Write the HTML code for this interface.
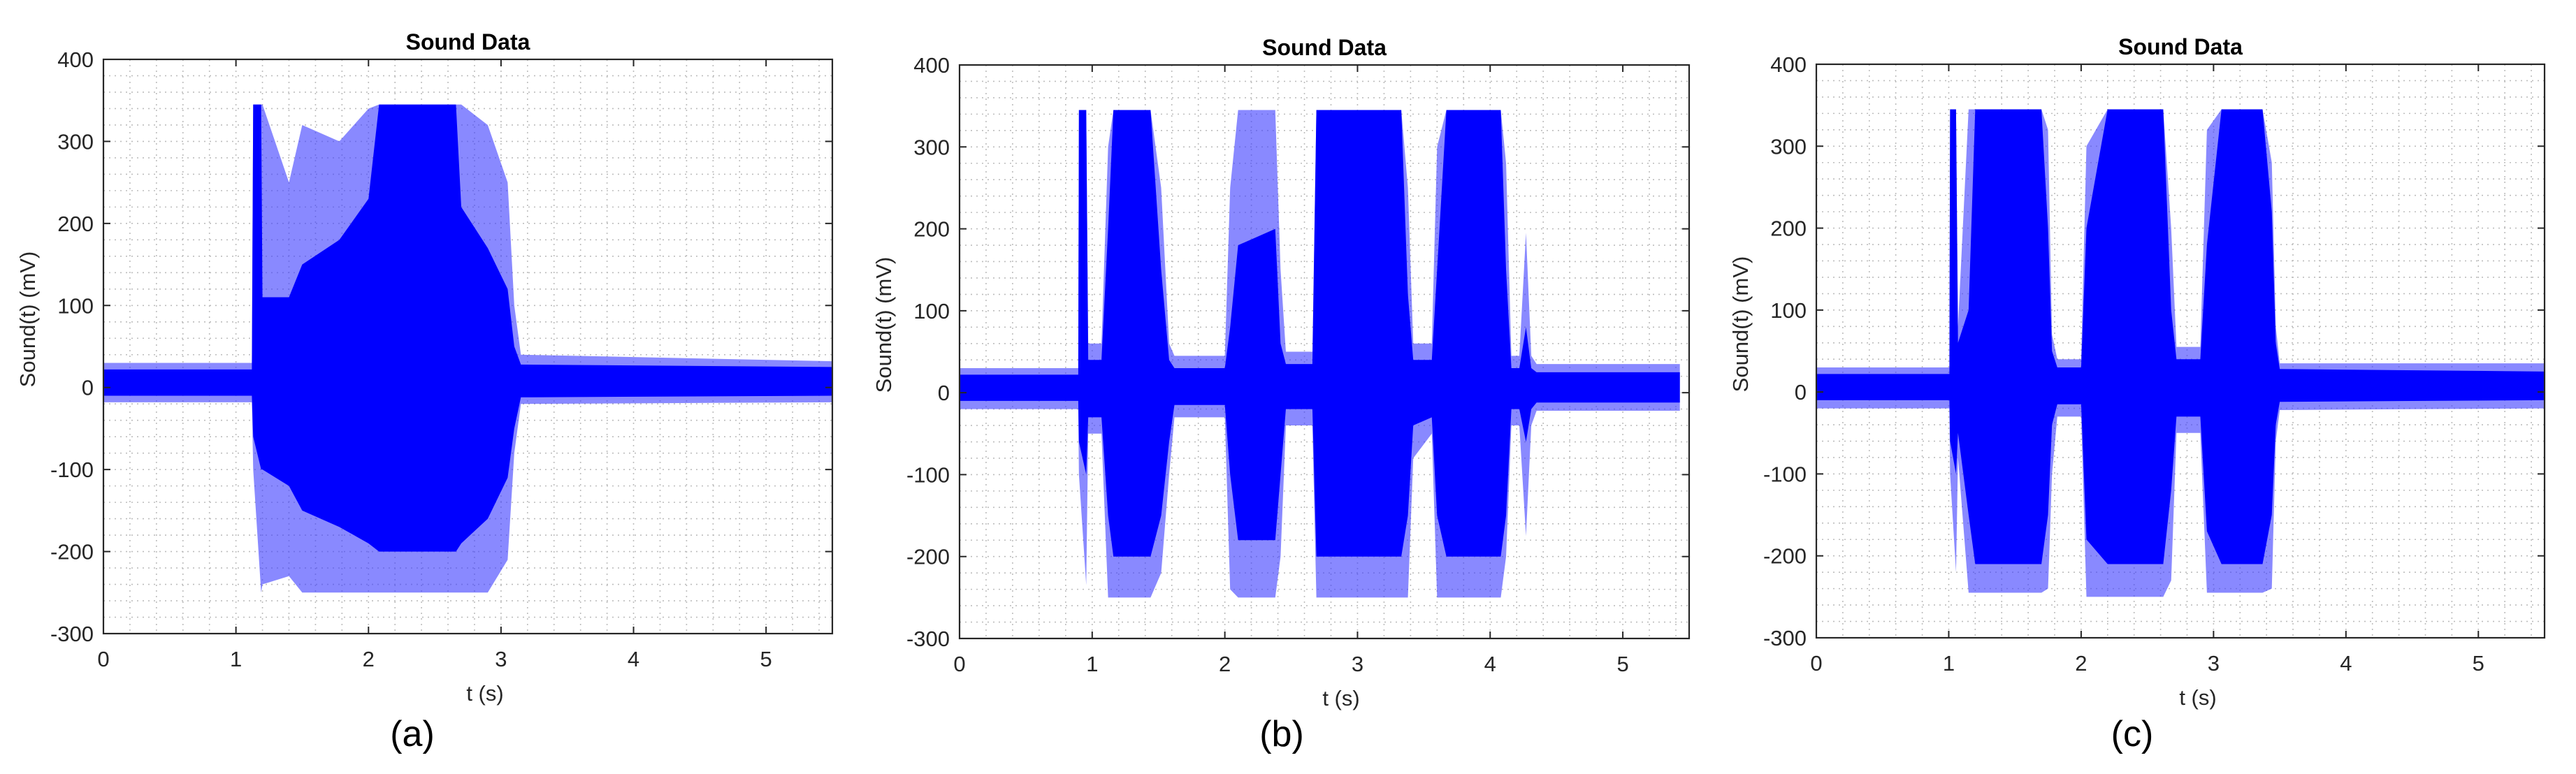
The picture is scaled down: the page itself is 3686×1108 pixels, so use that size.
<!DOCTYPE html>
<html><head><meta charset="utf-8"><style>
html,body{margin:0;padding:0;background:#fff;}
svg{display:block;font-family:"Liberation Sans",Arial,sans-serif;}
</style></head><body>
<svg id="fig" xmlns="http://www.w3.org/2000/svg" width="3686" height="1108" viewBox="0 0 3686 1108"></svg>
<script>
// ---- Panel (a) data ----
const tA     = [0, 1.12, 1.13, 1.19, 1.2, 1.4, 1.5, 1.78, 2.0, 2.08, 2.66, 2.7, 2.9, 3.05, 3.1, 3.15, 5.5];
const hiInA  = [22, 22, 345, 345, 110, 110, 150, 180, 230, 345, 345, 220, 170, 120, 50, 28, 25];
const loInA  = [-10, -10, -60, -100, -100, -120, -150, -170, -190, -200, -200, -190, -160, -110, -50, -12, -10];
const hiOutA = [30, 30, 345, 345, 345, 250, 320, 300, 340, 345, 345, 345, 320, 250, 100, 40, 32];
const loOutA = [-18, -18, -100, -250, -240, -230, -250, -250, -250, -250, -250, -250, -250, -210, -80, -20, -18];
// ---- Panel (b) data ----
const tB     = [0, 0.895, 0.9, 0.955, 0.97, 1.07, 1.12, 1.16, 1.44, 1.52, 1.58, 1.62, 2.0, 2.04, 2.1, 2.38, 2.42, 2.46, 2.66, 2.69, 3.33, 3.38, 3.42, 3.56, 3.6, 3.67, 4.08, 4.12, 4.16, 4.22, 4.27, 4.31, 4.35, 5.43];
const hiInB  = [22, 22, 345, 345, 40, 40, 200, 345, 345, 150, 40, 30, 30, 80, 180, 200, 60, 35, 35, 345, 345, 120, 40, 40, 150, 345, 345, 150, 30, 30, 80, 30, 25, 25];
const loInB  = [-10, -10, -60, -100, -30, -30, -150, -200, -200, -150, -60, -15, -15, -100, -180, -180, -100, -20, -20, -200, -200, -150, -40, -30, -150, -200, -200, -150, -20, -20, -60, -20, -12, -12];
const hiOutB = [30, 30, 345, 345, 60, 60, 300, 345, 345, 250, 60, 45, 45, 250, 345, 345, 150, 50, 50, 345, 345, 250, 60, 60, 300, 345, 345, 280, 45, 45, 195, 45, 35, 35];
const loOutB = [-20, -20, -100, -235, -50, -50, -250, -250, -250, -220, -100, -30, -30, -240, -250, -250, -200, -40, -40, -250, -250, -250, -80, -50, -250, -250, -250, -200, -40, -40, -175, -40, -22, -22];
// ---- Panel (c) data ----
const tC     = [0, 1.005, 1.01, 1.055, 1.07, 1.15, 1.2, 1.7, 1.75, 1.78, 1.82, 2.0, 2.04, 2.2, 2.62, 2.68, 2.72, 2.9, 2.95, 3.06, 3.37, 3.44, 3.47, 3.5, 5.5];
const hiInC  = [22, 22, 345, 345, 60, 100, 345, 345, 200, 50, 30, 30, 200, 345, 345, 100, 40, 40, 180, 345, 345, 220, 60, 28, 25];
const loInC  = [-10, -10, -60, -100, -50, -150, -210, -210, -150, -40, -15, -15, -180, -210, -210, -120, -30, -30, -170, -210, -210, -150, -40, -12, -10];
const hiOutC = [30, 30, 345, 345, 80, 345, 345, 345, 320, 70, 40, 40, 300, 345, 345, 200, 55, 55, 320, 345, 345, 280, 80, 35, 35];
const loOutC = [-20, -20, -100, -220, -80, -245, -245, -245, -240, -100, -30, -30, -250, -250, -250, -230, -50, -50, -245, -245, -245, -240, -60, -22, -20];
// ---- Axis ticks ----
const yTicks = [400, 300, 200, 100, 0, -100, -200, -300];
const xTicks = [0, 1, 2, 3, 4, 5];
const panelLabels = ["(a)", "(b)", "(c)"];

const NS = "http://www.w3.org/2000/svg";
const svg = document.getElementById("fig");
function mk(tag, attrs, parent){
  const e = document.createElementNS(NS, tag);
  for (const k in attrs) e.setAttribute(k, attrs[k]);
  (parent || svg).appendChild(e);
  return e;
}
const panels = [
  {L:148, R:1191, T:85, B:907, t:tA, hiIn:hiInA, loIn:loInA, hiOut:hiOutA, loOut:loOutA, lab:590, name:"a"},
  {L:1373, R:2417, T:93, B:914, t:tB, hiIn:hiInB, loIn:loInB, hiOut:hiOutB, loOut:loOutB, lab:1834, name:"b"},
  {L:2599, R:3641, T:92, B:913, t:tC, hiIn:hiInC, loIn:loInC, hiOut:hiOutC, loOut:loOutC, lab:3051, name:"c"}
];
panels.forEach((p, pi) => {
  const xs = t => p.L + (t / 5.5) * (p.R - p.L);
  const ys = v => p.B - ((v + 300) / 700) * (p.B - p.T);
  const g = mk("g", {});
  
  
  const grid = mk("g", {stroke:"#bdbdbd", "stroke-width":"1.6", "stroke-dasharray":"2,6"}, g);
  
  
  for (let i = 1; i < 28; i++) {
    const x = xs(i * 0.2);
    mk("line", {x1:x, x2:x, y1:p.T, y2:p.B}, grid);
  }
  for (let v = -280; v < 400; v += 20) {
    const y = ys(v);
    mk("line", {x1:p.L, x2:p.R, y1:y, y2:y}, grid);
  }
  const ptsOut = p.t.map((t,i)=>xs(t)+","+ys(p.hiOut[i])).concat(p.t.slice().reverse().map((t,j)=>{const i=p.t.length-1-j;return xs(t)+","+ys(p.loOut[i]);}));
  const outer = mk("polygon", {points:ptsOut.join(" "), fill:"#3a3aff", "fill-opacity":"0.6"}, g);
  
  
  const ptsIn = p.t.map((t,i)=>xs(t)+","+ys(p.hiIn[i])).concat(p.t.slice().reverse().map((t,j)=>{const i=p.t.length-1-j;return xs(t)+","+ys(p.loIn[i]);}));
  const inner = mk("polygon", {points:ptsIn.join(" "), fill:"#0000ff"}, g);
  
  
  const box = mk("rect", {x:p.L, y:p.T, width:p.R-p.L, height:p.B-p.T, fill:"none", stroke:"#262626", "stroke-width":"2.2"}, g);
  
  
  yTicks.forEach(v => {
    const y = ys(v);
    mk("line", {x1:p.L, x2:p.L+10, y1:y, y2:y, stroke:"#262626", "stroke-width":"2"}, g);
    mk("line", {x1:p.R, x2:p.R-10, y1:y, y2:y, stroke:"#262626", "stroke-width":"2"}, g);
    const tx = mk("text", {x:p.L-14, y:y+11, "text-anchor":"end", "font-size":"31", fill:"#262626"}, g);
    tx.textContent = v;
    
    
  });
  xTicks.forEach(v => {
    const x = xs(v);
    mk("line", {x1:x, x2:x, y1:p.B, y2:p.B-10, stroke:"#262626", "stroke-width":"2"}, g);
    mk("line", {x1:x, x2:x, y1:p.T, y2:p.T+10, stroke:"#262626", "stroke-width":"2"}, g);
    const tx = mk("text", {x:x, y:p.B+47, "text-anchor":"middle", "font-size":"31", fill:"#262626"}, g);
    tx.textContent = v;
    
    
  });
  const title = mk("text", {x:(p.L+p.R)/2, y:p.T-14, "text-anchor":"middle", "font-size":"32", "font-weight":"bold", fill:"#000"}, g);
  title.textContent = "Sound Data";
  
  
  const xl = mk("text", {x:p.L+546, y:p.B+96, "text-anchor":"middle", "font-size":"31", fill:"#262626"}, g);
  xl.textContent = "t  (s)";
  
  
  const cy = p.T + 372;
  const yl = mk("text", {x:p.L-98, y:cy, "text-anchor":"middle", "font-size":"31", fill:"#262626", transform:"rotate(-90 "+(p.L-98)+" "+cy+")"}, g);
  yl.textContent = "Sound(t)  (mV)";
  
  
  const pl = mk("text", {x:p.lab, y:1068, "text-anchor":"middle", "font-size":"52", fill:"#000"}, g);
  pl.textContent = panelLabels[pi];
  
  
});
</script>
</body></html>
